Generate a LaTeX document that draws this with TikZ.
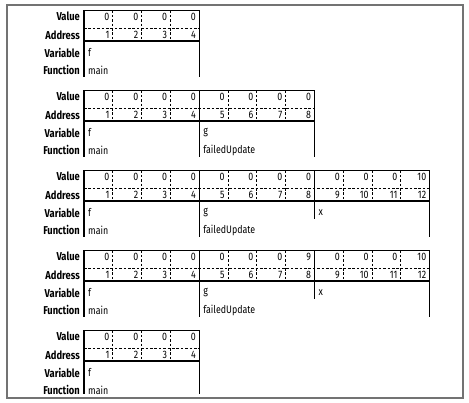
\documentclass[tikz,border=0pt]{standalone}
\usepackage{fontspec}
\setmainfont[FakeStretch=0.82]{Fira Sans}
\newcommand\memrow[4]{% #1 name, #2 y offset, #3 number of cells, #4 values
  \begin{scope}[shift={(0,#2)}]
    \node[lab] (#1-lv) at (80,16.5) {Value};
    \node[lab] (#1-la) at (80,35) {Address};
    \node[lab] (#1-lr) at (80,52.5) {Variable};
    \node[lab] (#1-lf) at (80,70) {Function};
    \pgfmathsetmacro\memR{84+28.8*#3}
    \draw[boxline] (84,10.5) -- (\memR,10.5) (84,41) -- (\memR,41);
    \draw[dashline] (84,28.5) -- (\memR,28.5);
    \foreach \v [count=\i] in {#4} {
      \pgfmathsetmacro\xr{84+28.8*\i}
      \node[num] (#1-v\i) at (\xr-3.2,17) {\v};
      \node[num] (#1-a\i) at (\xr-3.2,35) {\i};
      \pgfmathtruncatemacro\md{mod(\i,4)}
      \ifnum\md=0
        \draw[boxline] (\xr,10.5) -- (\xr,41);
      \else
        \draw[dashline] (\xr,10.5) -- (\xr,41);
      \fi
    }
  \end{scope}}
\begin{document}
\begin{tikzpicture}[x=1pt,y=-1pt,
  font=\fontsize{10.8}{12}\selectfont,
  frame/.style={draw=black!55, line width=1.8pt},
  boxline/.style={line width=1.2pt},
  dashline/.style={line width=0.9pt, dash pattern=on 2.6pt off 1.8pt},
  lab/.style={anchor=east, inner sep=0pt, font=\fontsize{11.4}{13}\selectfont\bfseries},
  num/.style={anchor=east, inner sep=0pt},
  txt/.style={anchor=west, inner sep=0pt}]
\useasboundingbox (0,0) rectangle (469,403);
\draw[frame] (7,5) rectangle (463,398);

% block 1
\memrow{b1}{0}{4}{0,0,0,0}
\node[txt] (b1-f) at (88,52.5) {f};
\node[txt] (b1-m) at (88,70) {main};
\draw[boxline] (84,10.5) -- (84,77) (199.2,10.5) -- (199.2,77);

% block 2
\memrow{b2}{80}{8}{0,0,0,0,0,0,0,0}
\node[txt] (b2-f) at (88,132.5) {f};
\node[txt] (b2-m) at (88,150) {main};
\node[txt] (b2-g) at (203.2,132.5) {g};
\node[txt] (b2-u) at (203.2,150) {failedUpdate};
\draw[boxline] (84,90.5) -- (84,157) (199.2,90.5) -- (199.2,157) (314.4,90.5) -- (314.4,157);

% block 3
\memrow{b3}{160}{12}{0,0,0,0,0,0,0,0,0,0,0,10}
\node[txt] (b3-f) at (88,212.5) {f};
\node[txt] (b3-m) at (88,230) {main};
\node[txt] (b3-g) at (203.2,212.5) {g};
\node[txt] (b3-u) at (203.2,230) {failedUpdate};
\node[txt] (b3-x) at (318.4,212.5) {x};
\draw[boxline] (84,170.5) -- (84,237) (199.2,170.5) -- (199.2,237)
  (314.4,170.5) -- (314.4,219.5) (429.6,170.5) -- (429.6,237);

% block 4
\memrow{b4}{240}{12}{0,0,0,0,0,0,0,9,0,0,0,10}
\node[txt] (b4-f) at (88,292.5) {f};
\node[txt] (b4-m) at (88,310) {main};
\node[txt] (b4-g) at (203.2,292.5) {g};
\node[txt] (b4-u) at (203.2,310) {failedUpdate};
\node[txt] (b4-x) at (318.4,292.5) {x};
\draw[boxline] (84,250.5) -- (84,317) (199.2,250.5) -- (199.2,317)
  (314.4,250.5) -- (314.4,299.5) (429.6,250.5) -- (429.6,317);

% block 5
\memrow{b5}{320}{4}{0,0,0,0}
\node[txt] (b5-f) at (88,372.5) {f};
\node[txt] (b5-m) at (88,390) {main};
\draw[boxline] (84,330.5) -- (84,394) (199.2,330.5) -- (199.2,394);
\end{tikzpicture}
\end{document}
